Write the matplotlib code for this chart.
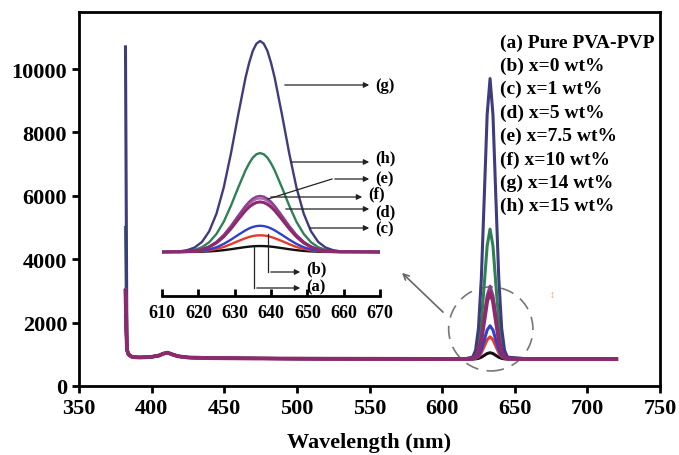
import matplotlib
matplotlib.use("Agg")
import matplotlib.pyplot as plt
from matplotlib.patches import Ellipse

plt.rcParams['font.family'] = ['Liberation Serif', 'DejaVu Serif']
plt.rcParams['font.weight'] = 'bold'

# ---- main spectrum (nm, intensity) ----
main_wl = [382, 383, 384, 386, 388, 392, 400, 405, 408, 411, 414, 418, 425, 440, 470,
           520, 580, 615, 621, 623, 625, 627, 629, 631, 633, 635, 637, 639, 641, 643,
           645, 660, 690, 720]
base = [1150, 1000, 930, 910, 900, 920, 960, 1020, 1050, 1000, 940, 900, 880, 870,
        860, 855, 850]
tail = [850, 850, 850]

main_a = [2200] + base + [851, 856, 872, 908, 965, 1024, 1050, 1024, 965, 908, 872, 856, 851] + tail
main_b = [2400] + base + [855, 872, 926, 1052, 1253, 1460, 1550, 1460, 1253, 1052, 926, 872, 855] + tail
main_c = [2600] + base + [857, 883, 964, 1152, 1454, 1765, 1900, 1765, 1454, 1152, 964, 883, 857] + tail
main_d = [3000] + base + [865, 915, 1079, 1455, 2058, 2679, 2950, 2679, 2058, 1455, 1079, 915, 865] + tail
main_e = [3000] + base + [865, 918, 1090, 1484, 2115, 2766, 3050, 2766, 2115, 1484, 1090, 918, 865] + tail
main_f = [3050] + base + [866, 921, 1101, 1512, 2173, 2853, 3150, 2853, 2173, 1512, 1101, 921, 866] + tail
main_g = [10700] + base + [912, 1124, 1815, 3399, 5939, 8558, 9700, 8558, 5939, 3399, 1815, 1124, 912] + tail
main_h = [5000] + base + [879, 977, 1297, 2031, 3208, 4421, 4950, 4421, 3208, 2031, 1297, 977, 879] + tail

# ---- inset (zoom on the 610-670 nm band) ----
inset_wl = [610, 615, 617, 619, 621, 623, 625, 627, 629, 631, 633, 634, 635, 636, 637, 638,
            639, 640, 641, 643, 645, 647, 649, 651, 653, 655, 657, 659, 670]
inset_a = [850, 851, 852, 855, 862, 875, 895, 927, 967, 1013, 1057, 1075, 1089, 1097, 1100, 1097,
           1089, 1075, 1057, 1013, 967, 927, 895, 875, 862, 855, 852, 851, 850]
inset_b = [850, 852, 856, 865, 885, 920, 980, 1060, 1180, 1310, 1430, 1480, 1520, 1543, 1550, 1543,
           1520, 1480, 1430, 1310, 1180, 1060, 980, 920, 885, 865, 856, 852, 850]
inset_c = [850, 853, 860, 875, 900, 960, 1050, 1190, 1370, 1570, 1760, 1840, 1900, 1937, 1950, 1937,
           1900, 1840, 1760, 1570, 1370, 1190, 1050, 960, 900, 875, 860, 853, 850]
inset_d = [850, 855, 870, 895, 950, 1060, 1230, 1490, 1830, 2220, 2590, 2740, 2850, 2925, 2950, 2925,
           2850, 2740, 2590, 2220, 1830, 1490, 1230, 1060, 950, 895, 870, 855, 850]
inset_e = [850, 860, 870, 900, 960, 1070, 1260, 1540, 1910, 2320, 2710, 2870, 2990, 3074, 3100, 3074,
           2990, 2870, 2710, 2320, 1910, 1540, 1260, 1070, 960, 900, 870, 860, 850]
inset_f = [850, 860, 870, 900, 960, 1080, 1280, 1570, 1950, 2380, 2790, 2960, 3090, 3173, 3200, 3173,
           3090, 2960, 2790, 2380, 1950, 1570, 1280, 1080, 960, 900, 870, 860, 850]
inset_g = [850, 880, 930, 1040, 1270, 1720, 2460, 3560, 5000, 6630, 8170, 8790, 9290, 9590, 9700, 9590,
           9290, 8790, 8170, 6630, 5000, 3560, 2460, 1720, 1270, 1040, 930, 880, 850]
inset_h = [850, 860, 890, 940, 1050, 1260, 1610, 2120, 2800, 3560, 4280, 4570, 4810, 4950, 5000, 4950,
           4810, 4570, 4280, 3560, 2800, 2120, 1610, 1260, 1050, 940, 890, 860, 850]

legend_labels = ["(a) Pure PVA-PVP", "(b) x=0 wt%", "(c) x=1 wt%", "(d) x=5 wt%",
                 "(e) x=7.5 wt%", "(f) x=10 wt%", "(g) x=14 wt%", "(h) x=15 wt%"]

colors = {'a': '#111111', 'b': '#e8392b', 'c': '#3040c8', 'd': '#8c2a6c',
          'e': '#b266ac', 'f': '#8a3f92', 'g': '#3e3c7e', 'h': '#2f8055'}
order = ['a', 'b', 'c', 'h', 'g', 'e', 'f', 'd']
main_series = dict(a=main_a, b=main_b, c=main_c, d=main_d, e=main_e, f=main_f, g=main_g, h=main_h)
inset_series = dict(a=inset_a, b=inset_b, c=inset_c, d=inset_d, e=inset_e, f=inset_f, g=inset_g, h=inset_h)

W, H = 679, 456
fig = plt.figure(figsize=(W / 100, H / 100), dpi=100)


def frac(x, y):
    # pixel position in the picture -> figure fraction
    return x / W, 1 - y / H


ax = fig.add_axes([79 / W, (H - 387) / H, (660 - 79) / W, (387 - 13) / H])
for k in order:
    ax.plot(main_wl, main_series[k], color=colors[k], lw=2.8 if k == 'd' else 2.2)

ax.set_xlim(350, 750)
ax.set_ylim(0, 11800)
ax.set_xticks(range(350, 751, 50))
ax.set_yticks(range(0, 10001, 2000))
ax.tick_params(labelsize=16, width=2, length=5)
for s in ax.spines.values():
    s.set_linewidth(2)
ax.set_xlabel("Wavelength (nm)", fontsize=16, fontweight='bold', labelpad=10)

ax.add_patch(Ellipse((633.5, 1800), 58, 2650, fill=False, ec='#777777', lw=1.2,
                     ls=(0, (8, 5))))
ax.annotate("", xy=(571, 3630), xytext=(602, 2270),
            arrowprops=dict(arrowstyle='->', color='#666666', lw=1.2))

# legend text block
for i, t in enumerate(legend_labels):
    fig.text(*frac(500, 43 + i * 23.4), t, fontsize=14, fontweight='bold',
             va='center', ha='left')

# inset
ins = fig.add_axes([162 / W, (H - 297) / H, (380 - 162) / W, (297 - 35) / H])
for k in order:
    ins.plot(inset_wl, inset_series[k], color=colors[k], lw=2.2 if k == 'd' else 1.7)
ins.set_xlim(610, 670)
ins.set_ylim(-996, 9994)
ins.set_xticks(range(610, 671, 10))
ins.set_yticks([])
ins.patch.set_alpha(0)
for side in ['top', 'right', 'left']:
    ins.spines[side].set_visible(False)
ins.spines['bottom'].set_linewidth(2)
ins.tick_params(axis='x', direction='in', length=5, width=2, labelsize=13, pad=6)

# inset pointer labels (figure pixel positions)
ap = dict(arrowstyle='-|>', color='#222222', lw=0.9, mutation_scale=8)
pointers = [
    ('(g)', [(282, 86)], (372, 86), 0),
    ('(h)', [(288, 163)], (372, 163), -5),
    ('(e)', [(268, 200), (332, 180)], (372, 180), -1),
    ('(f)', [(268, 198)], (365, 198), -4),
    ('(d)', [(283, 210)], (372, 210), 2),
    ('(c)', [(307, 229)], (372, 229), 0),
    ('(b)', [(268, 235), (268, 273)], (303, 273), -4),
    ('(a)', [(254, 247), (254, 289)], (303, 289), -2),
]
for lab, pts, end, dy in pointers:
    for p0, p1 in zip(pts[:-1], pts[1:]):
        fig.add_artist(plt.Line2D([frac(*p0)[0], frac(*p1)[0]], [frac(*p0)[1], frac(*p1)[1]],
                                  color='#222222', lw=0.9, transform=fig.transFigure))
    ins.annotate("", xy=frac(end[0], pts[-1][1]), xytext=frac(*pts[-1]),
                 xycoords='figure fraction', textcoords='figure fraction', arrowprops=ap)
    fig.text(*frac(end[0] + 3, pts[-1][1] + dy), lab, fontsize=12, fontweight='bold',
             va='center', ha='left')

fig.text(*frac(552, 296), "\u2195", fontsize=7, color='#e0a040', ha='center', va='center')

fig.savefig("out.png", dpi=100)
